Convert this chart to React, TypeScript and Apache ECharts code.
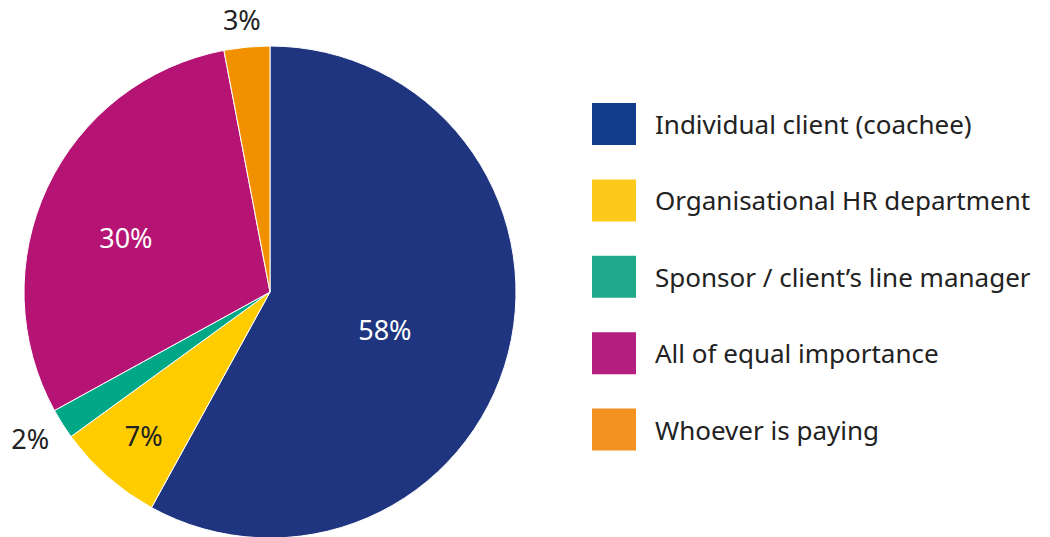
import React, { useEffect, useRef } from "react";
import * as echarts from "echarts";

const categories = [
  "Individual client (coachee)",
  "Organisational HR department",
  "Sponsor / client’s line manager",
  "All of equal importance",
  "Whoever is paying",
];
const values = [58, 7, 2, 30, 3];
const sliceColors = ["#1f3580", "#ffcc00", "#00a887", "#b51475", "#f29100"];
const legendColors = ["#123d8c", "#fdc91a", "#1fa98a", "#b41e7e", "#f39121"];
const labelColors = ["#ffffff", "#222222", "#222222", "#ffffff", "#222222"];
// radial distance of each label from the centre (px) and angular nudge (deg, clockwise)
const labelRadius = [121, 191, 281, 154, 274];
const labelNudge = [3.9, 0, 1, -4.6, -0.5];

const CX = 270;
const CY = 292;
const R = 246;

export default function App() {
  const ref = useRef<HTMLDivElement>(null);
  useEffect(() => {
    if (!ref.current) return;
    const chart = echarts.init(ref.current, null, { renderer: "svg" });
    const font = "'Noto Sans', sans-serif";
    chart.setOption({
      animation: false,
      legend: {
        orient: "vertical",
        left: 585,
        top: 96,
        padding: 5,
        itemWidth: 46,
        itemHeight: 44,
        itemGap: 30.4,
        icon: "rect",
        selectedMode: false,
        textStyle: {
          fontFamily: font,
          fontSize: 26,
          color: "#222222",
          padding: [0, 0, 0, 13],
          lineHeight: 30,
        },
        data: categories.map((name, i) => ({
          name,
          itemStyle: { color: legendColors[i] },
        })),
      },
      series: [
        {
          type: "pie",
          center: [CX, CY],
          radius: [0, R],
          startAngle: 90,
          clockwise: true,
          silent: true,
          itemStyle: { borderColor: "#ffffff", borderWidth: 1 },
          label: {
            show: true,
            position: "inside",
            fontFamily: font,
            fontSize: 27,
            formatter: (p: any) => p.value + "%",
          },
          labelLine: { show: false },
          labelLayout: (p: any) => {
            const r = p.labelRect;
            const lx = r.x + r.width / 2;
            const ly = r.y + r.height / 2;
            const a = Math.atan2(lx - CX, -(ly - CY)) + (labelNudge[p.dataIndex] * Math.PI) / 180;
            const rr = labelRadius[p.dataIndex];
            return {
              x: CX + rr * Math.sin(a),
              y: CY - rr * Math.cos(a),
              align: "center",
              verticalAlign: "middle",
            };
          },
          data: categories.map((name, i) => ({
            name,
            value: values[i],
            itemStyle: { color: sliceColors[i] },
            label: { color: labelColors[i] },
          })),
        },
      ],
    });
    return () => chart.dispose();
  }, []);
  return (
    <div
      ref={ref}
      style={{ position: "fixed", left: 0, top: 0, width: 1050, height: 537, background: "#ffffff" }}
    />
  );
}
